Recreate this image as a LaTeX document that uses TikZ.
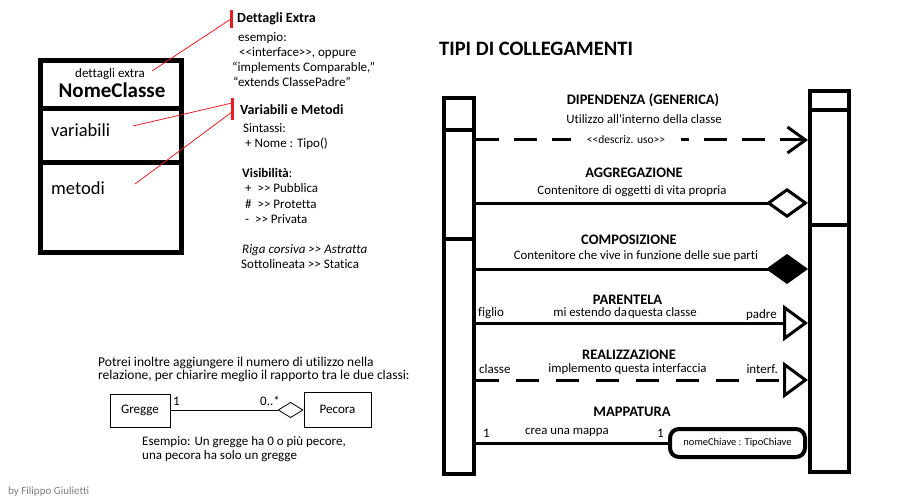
\documentclass[tikz,border=0pt]{standalone}
\usepackage{fontspec}
\setmainfont{Carlito}[Ligatures={TeXOff,CommonOff}]
\usetikzlibrary{arrows.meta}
\definecolor{evid}{RGB}{237,28,36}
\newcommand{\fsz}[1]{\fontsize{#1}{#1}\selectfont}

\begin{document}
\begin{tikzpicture}[x=1pt,y=-1pt,
    nota/.style={inner sep=0pt,anchor=base west,font=\fsz{13}},
    descr/.style={inner sep=0pt,anchor=base,font=\fsz{12.8}},
    titolo/.style={inner sep=0pt,anchor=base,font=\bfseries\fsz{14.5}},
    barra/.style={line width=4pt},
    link/.style={line width=3pt,line join=miter},
    rosso/.style={draw=evid,line width=0.8pt},
    segno/.style={draw=evid,line width=3pt},
    classe/.style={draw,line width=0.8pt,inner sep=0pt,font=\fsz{13}}]
\useasboundingbox (0,0) rectangle (897,500);

% Classe di esempio
\draw[line width=5pt] (40.5,60.5) rectangle (181,252.5);
\draw[line width=5pt] (40.5,108.5) -- (181,108.5);
\draw[line width=5pt] (40.5,162.5) -- (181,162.5);
\node[inner sep=0pt,anchor=base,font=\fsz{13}] (extra) at (110,78) {dettagli extra};
\node[inner sep=0pt,anchor=base,font=\bfseries\fsz{21}] (nome) at (112,98) {NomeClasse};
\node[inner sep=0pt,anchor=base west,font=\fsz{18.5}] (var) at (51,137) {variabili};
\node[inner sep=0pt,anchor=base west,font=\fsz{18.5}] (met) at (51,194) {metodi};

% Note sulla classe
\coordinate (p1) at (152,71);
\coordinate (p2) at (133,126);
\coordinate (p3) at (135,184);
\coordinate (r1) at (231,19);
\coordinate (r2) at (232,103);
\coordinate (r3) at (232,112);
\draw[segno] (231,10) -- (231,28);
\draw[segno] (232,98) -- (232,120);
\draw[rosso] (p1) -- (r1);
\draw[rosso] (p2) -- (r2);
\draw[rosso] (p3) -- (r3);

\node[nota,font=\bfseries\fsz{14}] (dett) at (237,23) {Dettagli Extra};
\node[nota] (es1) at (238,42) {esempio:};
\node[nota] (es2) at (239,57) {<<interface>>, oppure};
\node[nota] (es3) at (232,72) {“implements Comparable,”};
\node[nota] (es4) at (233,87) {“extends ClassePadre”};
\node[nota,font=\bfseries\fsz{14}] (vm) at (240,115) {Variabili e Metodi};
\node[nota] (sint) at (243,133) {Sintassi:};
\node[nota] (sint2) at (245,148) {+ Nome : Tipo()};
\node[nota] (vis) at (242,178) {\textbf{Visibilità}:};
\node[nota] (vis1) at (245,193) {+ \ >> Pubblica};
\node[nota] (vis2) at (245,208) {\# \ >> Protetta};
\node[nota] (vis3) at (245,223) {- \ >> Privata};
\node[nota] (abs) at (242,253) {\itshape Riga corsiva >> Astratta};
\node[nota] (stat) at (241,268) {Sottolineata >> Statica};

% Tipi di collegamenti
\node[inner sep=0pt,anchor=base west,font=\bfseries\fsz{20.5}] (tit) at (439,56) {TIPI DI COLLEGAMENTI};

\draw[barra] (444,98) rectangle (474,474);
\draw[barra] (444,130) -- (474,130);
\draw[barra] (444,239) -- (474,239);
\draw[barra] (810,91) rectangle (849,472);
\draw[barra] (810,110) -- (849,110);
\draw[barra] (810,225) -- (849,225);

\coordinate (dipA) at (476,140);
\coordinate (dipB) at (808,140);
\coordinate (aggA) at (476,203);
\coordinate (aggB) at (808,203);
\coordinate (comA) at (476,269);
\coordinate (comB) at (808,269);
\coordinate (parA) at (476,323);
\coordinate (parB) at (808,323);
\coordinate (reaA) at (476,380);
\coordinate (reaB) at (808,380);
\coordinate (mapA) at (476,443);

% dipendenza
\node[titolo] (dip) at (643,105) {DIPENDENZA (GENERICA)};
\node[descr] (dipd) at (644,124) {Utilizzo all'interno della classe};
\draw[link,dash pattern=on 23pt off 15pt,-{Straight Barb[length=18pt,width=26pt]}] (dipA) -- (dipB);
\node[fill=white,inner xsep=16pt,inner ysep=3pt,font=\fsz{11.5}] (uso) at (626,140) {<<descriz. uso>>};

% aggregazione
\node[titolo] (agg) at (634,178) {AGGREGAZIONE};
\node[descr] (aggd) at (632,194) {Contenitore di oggetti di vita propria};
\draw[link,-{Diamond[open,length=42pt,width=30pt]}] (aggA) -- (aggB);

% composizione
\node[titolo] (com) at (629,244) {COMPOSIZIONE};
\node[descr] (comd) at (636,259) {Contenitore che vive in funzione delle sue parti};
\draw[link,-{Diamond[length=42pt,width=30pt]}] (comA) -- (comB);

% parentela
\node[titolo] (par) at (627.5,304) {PARENTELA};
\node[descr] (pard) at (625,316) {mi estendo da\hspace{1pt}questa classe};
\node[nota] (figlio) at (478,316) {figlio};
\node[nota,anchor=base east] (padre) at (777,318) {padre};
\draw[link,-{Triangle[open,length=25pt,width=36pt]}] (parA) -- (parB);

% realizzazione
\node[titolo] (rea) at (629,359) {REALIZZAZIONE};
\node[descr] (read) at (627.5,372) {implemento questa interfaccia};
\node[nota] (cls) at (479,373) {classe};
\node[nota,anchor=base east] (intf) at (778,373) {interf.};
\draw[link,dash pattern=on 23pt off 17pt,-{Triangle[open,length=25pt,width=36pt]}] (reaA) -- (reaB);

% mappatura
\node[titolo] (map) at (632,416) {MAPPATURA};
\node[descr] (mapd) at (567,434) {crea una mappa};
\node[nota] (uno1) at (483,437) {1};
\node[nota] (uno2) at (657,437) {1};
\node[draw,line width=4pt,rounded corners=9pt,minimum width=135pt,minimum height=28pt,inner sep=0pt,font=\fsz{10.5}] (chiave) at (737.5,443) {nomeChiave : TipoChiave};
\draw[link] (mapA) -- (chiave.west);

% Molteplicita
\node[nota,font=\fsz{13.5}] (pot1) at (98,366) {Potrei inoltre aggiungere il numero di utilizzo nella};
\node[nota,font=\fsz{13.5}] (pot2) at (98,379) {relazione, per chiarire meglio il rapporto tra le due classi:};
\node[classe,minimum width=60pt,minimum height=33pt] (gregge) at (140,410.5) {Gregge};
\node[classe,minimum width=67pt,minimum height=35pt] (pecora) at (337.5,409.5) {Pecora};
\draw[line width=0.8pt,-{Diamond[open,length=26pt,width=16pt]}] (gregge.east |- 0,410) -- (pecora.west |- 0,410);
\node[nota] (m1) at (173,405) {1};
\node[nota,anchor=base east] (m2) at (280,405) {0..*};
\node[nota,font=\fsz{13}] (es5) at (142,445) {Esempio: Un gregge ha 0 o più pecore,};
\node[nota,font=\fsz{13}] (es6) at (142,459) {una pecora ha solo un gregge};

\node[nota,font=\fsz{11},text=gray] (firma) at (8,494) {by Filippo Giulietti};
\end{tikzpicture}
\end{document}
